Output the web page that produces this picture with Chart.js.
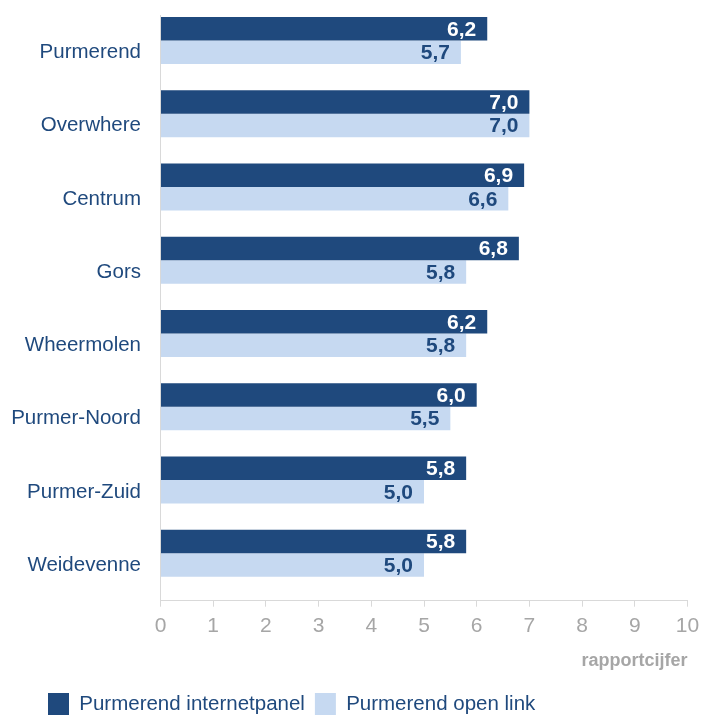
<!DOCTYPE html>
<html>
<head>
<meta charset="utf-8">
<script src="https://cdn.jsdelivr.net/npm/chart.js@4.4.1/dist/chart.umd.min.js"></script>
<style>
  html, body { margin: 0; padding: 0; background: #ffffff; }
  #wrap { width: 702px; height: 715px; position: relative; }
</style>
</head>
<body>
<div id="wrap"><canvas id="c"></canvas></div>
<script>
const categories = ["Purmerend", "Overwhere", "Centrum", "Gors", "Wheermolen", "Purmer-Noord", "Purmer-Zuid", "Weidevenne"];
const internetpanel = [6.2, 7.0, 6.9, 6.8, 6.2, 6.0, 5.8, 5.8];
const openLink = [5.7, 7.0, 6.6, 5.8, 5.8, 5.5, 5.0, 5.0];
const seriesNames = ["Purmerend internetpanel", "Purmerend open link"];
const xTicks = [0, 1, 2, 3, 4, 5, 6, 7, 8, 9, 10];
const axisTitle = "rapportcijfer";

const DARK = "#1f497d";
const LIGHT = "#c6d9f1";
const FONT = "'Liberation Sans', Arial, sans-serif";

const toPoints = (vals) => vals.map((v, i) => ({ x: v, y: i }));
const fmt = (v) => v.toFixed(1).replace(".", ",");

const valueLabels = {
  id: "valueLabels",
  afterDatasetsDraw(chart) {
    const ctx = chart.ctx;
    ctx.save();
    ctx.font = "bold 21px " + FONT;
    ctx.textAlign = "right";
    ctx.textBaseline = "middle";
    chart.data.datasets.forEach((ds, di) => {
      const meta = chart.getDatasetMeta(di);
      ctx.fillStyle = di === 0 ? "#ffffff" : DARK;
      meta.data.forEach((el, i) => {
        ctx.fillText(fmt(ds.data[i].x), el.x - 11, el.y + 1);
      });
    });
    ctx.restore();
  }
};

const legendShift = {
  id: "legendShift",
  afterLayout(chart) {
    if (chart.legend) {
      chart.legend.left += 38;
      chart.legend.right += 38;
    }
  }
};

new Chart(document.getElementById("c"), {
  type: "bar",
  data: {
    datasets: [
      { label: seriesNames[0], data: toPoints(internetpanel), backgroundColor: DARK, borderWidth: 0 },
      { label: seriesNames[1], data: toPoints(openLink), backgroundColor: LIGHT, borderWidth: 0 }
    ]
  },
  options: {
    indexAxis: "y",
    responsive: true,
    maintainAspectRatio: false,
    animation: false,
    datasets: { bar: { categoryPercentage: 0.641, barPercentage: 1 } },
    layout: { padding: { top: 15, right: 14.5, bottom: -10, left: 0 } },
    scales: {
      x: {
        type: "linear",
        min: xTicks[0],
        max: xTicks[xTicks.length - 1],
        afterBuildTicks: (s) => { s.ticks = xTicks.map(v => ({ value: v })); },
        afterFit: (s) => { s.paddingLeft = 0; s.paddingRight = 0; },
        grid: { drawOnChartArea: false, drawTicks: true, tickLength: 6, color: "#d9d9d9" },
        border: { display: true, color: "#d9d9d9", width: 1 },
        ticks: { color: "#a6a6a6", font: { family: FONT, size: 21 }, padding: 7, maxRotation: 0, autoSkip: false },
        title: {
          display: true, text: axisTitle, align: "end", color: "#a6a6a6",
          font: { family: FONT, size: 18, weight: "bold" },
          padding: { top: 4, bottom: 11.5 }
        }
      },
      y: {
        type: "linear",
        reverse: true,
        offset: false,
        bounds: "data",
        min: -0.348,
        max: 7.648,
        afterBuildTicks: (s) => { s.ticks = categories.map((c, i) => ({ value: i })); },
        afterFit: (s) => { s.width = 160.5; s.paddingTop = 0; s.paddingBottom = 0; },
        grid: { display: true, drawOnChartArea: false, drawTicks: false, offset: false },
        border: { display: true, color: "#d9d9d9", width: 1 },
        ticks: {
          color: DARK, font: { family: FONT, size: 20.5 }, padding: 19.5, autoSkip: false,
          labelOffset: 12,
          callback: (v) => categories[v]
        }
      }
    },
    plugins: {
      legend: {
        position: "bottom",
        align: "start",
        labels: {
          color: DARK, font: { family: FONT, size: 20.5 },
          boxWidth: 21, boxHeight: 22, padding: 10
        }
      },
      tooltip: { enabled: false }
    }
  },
  plugins: [valueLabels, legendShift]
});
</script>
</body>
</html>
